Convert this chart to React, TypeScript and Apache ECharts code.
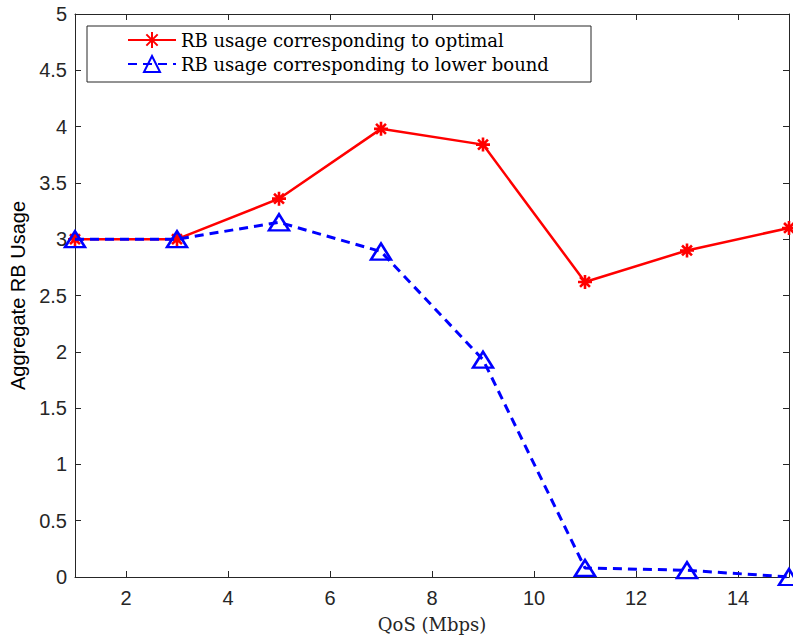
import React, { useEffect, useRef } from "react";
import * as echarts from "echarts";

const xValues = [1, 3, 5, 7, 9, 11, 13, 15];
const optimal = [3.0, 3.0, 3.36, 3.98, 3.84, 2.62, 2.9, 3.1];
const lowerBound = [3.0, 3.0, 3.15, 2.89, 1.93, 0.08, 0.06, 0.0];
const xTicks = [2, 4, 6, 8, 10, 12, 14];
const seriesNames = ["RB usage corresponding to optimal", "RB usage corresponding to lower bound"];
const xLabel = "QoS (Mbps)";
const yLabel = "Aggregate RB Usage";

const axisColor = "#262626";
const asteriskPath = "path://M0 -1 L0 1 M-1 0 L1 0 M-0.707 -0.707 L0.707 0.707 M-0.707 0.707 L0.707 -0.707";
const trianglePath = "path://M0 -1 L0.95 0.6 L-0.95 0.6 Z";

export default function App() {
  const ref = useRef<HTMLDivElement>(null);
  useEffect(() => {
    if (!ref.current) return;
    const chart = echarts.init(ref.current, undefined, { renderer: "svg" });
    const tickFont = { fontFamily: "Liberation Sans, Arial, sans-serif", fontSize: 20, color: axisColor };
    const lineStyle = { color: axisColor, width: 1 };
    chart.setOption({
      animation: false,
      backgroundColor: "#ffffff",
      grid: { left: 75, right: 4, top: 14, bottom: 64, containLabel: false },
      xAxis: [
        {
          type: "value", min: 1, max: 15,
          name: xLabel, nameLocation: "middle", nameGap: 38,
          nameTextStyle: { fontFamily: "DejaVu Serif, serif", fontSize: 18, color: axisColor },
          axisLine: { show: true, onZero: false, lineStyle },
          axisTick: { show: true, inside: true, length: 6, lineStyle, customValues: xTicks },
          axisLabel: { ...tickFont, margin: 11, customValues: xTicks },
          splitLine: { show: false },
        },
        {
          type: "value", min: 1, max: 15, position: "top",
          axisLine: { show: true, onZero: false, lineStyle },
          axisTick: { show: true, inside: true, length: 6, lineStyle, customValues: xTicks },
          axisLabel: { show: false },
          splitLine: { show: false },
        },
      ],
      yAxis: [
        {
          type: "value", min: 0, max: 5, interval: 0.5,
          name: yLabel, nameLocation: "middle", nameGap: 43,
          nameTextStyle: { fontFamily: "Liberation Sans, Arial, sans-serif", fontSize: 20, color: "#000" },
          axisLine: { show: true, onZero: false, lineStyle },
          axisTick: { show: true, inside: true, length: 6, lineStyle },
          axisLabel: { ...tickFont, margin: 8 },
          splitLine: { show: false },
        },
        {
          type: "value", min: 0, max: 5, interval: 0.5, position: "right",
          axisLine: { show: true, onZero: false, lineStyle },
          axisTick: { show: true, inside: true, length: 6, lineStyle },
          axisLabel: { show: false },
          splitLine: { show: false },
        },
      ],
      legend: {
        orient: "vertical",
        left: 127,
        top: 31,
        padding: 0,
        itemWidth: 48,
        itemHeight: 20,
        itemGap: 6,
        textStyle: { fontFamily: "DejaVu Serif, serif", fontSize: 18, color: "#000" },
        data: seriesNames,
        z: 10,
      },
      graphic: [
        {
          type: "rect",
          shape: { x: 87, y: 26, width: 504, height: 56 },
          style: { fill: "#ffffff", stroke: axisColor, lineWidth: 1 },
          z: 5,
        },
      ],
      series: [
        {
          name: seriesNames[0],
          type: "line",
          xAxisIndex: 0, yAxisIndex: 0,
          data: xValues.map((x, i) => [x, optimal[i]]),
          symbol: asteriskPath,
          symbolSize: 14,
          showAllSymbol: true,
          clip: false,
          lineStyle: { color: "#ff0000", width: 2.5, type: "solid" },
          itemStyle: { color: "#ff0000", borderColor: "#ff0000", borderWidth: 2.6 },
          z: 2,
        },
        {
          name: seriesNames[1],
          type: "line",
          xAxisIndex: 0, yAxisIndex: 0,
          data: xValues.map((x, i) => [x, lowerBound[i]]),
          symbol: trianglePath,
          symbolSize: [20, 16],
          showAllSymbol: true,
          clip: false,
          lineStyle: { color: "#0000ff", width: 3, type: [9, 6] },
          itemStyle: { color: "rgba(0,0,0,0)", borderColor: "#0000ff", borderWidth: 2.5 },
          z: 3,
        },
      ],
    });
    return () => chart.dispose();
  }, []);
  return <div ref={ref} style={{ width: 793, height: 641, position: "absolute", left: 0, top: 0 }} />;
}
